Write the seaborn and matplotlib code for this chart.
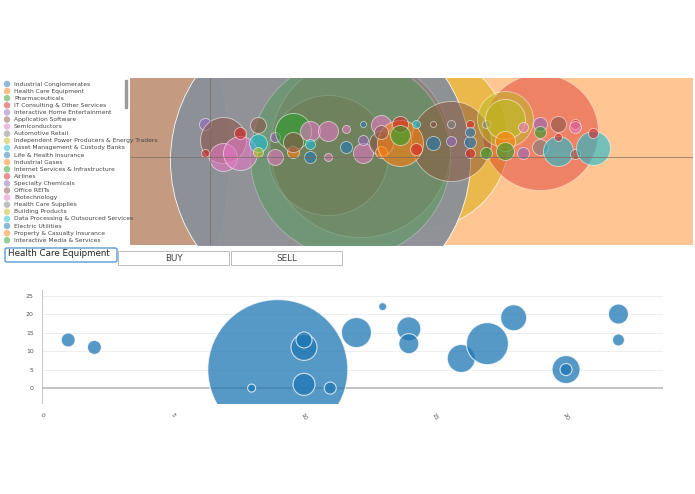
import matplotlib
matplotlib.use("Agg")
import matplotlib.pyplot as plt
import seaborn as sns
import pandas as pd
from matplotlib.patches import FancyBboxPatch

sns.set_style("white")
plt.rcParams["font.family"] = ["DejaVu Sans"]

# -----------------------------
# Data
# -----------------------------
sectors = [
    "Industrial Conglomerates", "Health Care Equipment", "Pharmaceuticals",
    "IT Consulting & Other Services", "Interactive Home Entertainment",
    "Application Software", "Semiconductors", "Automotive Retail",
    "Independent Power Producers & Energy Traders", "Asset Management & Custody Banks",
    "Life & Health Insurance", "Industrial Gases", "Internet Services & Infrastructure",
    "Airlines", "Specialty Chemicals", "Office REITs", "Biotechnology",
    "Health Care Supplies", "Building Products", "Data Processing & Outsourced Services",
    "Electric Utilities", "Property & Casualty Insurance", "Interactive Media & Services",
]
palette = sns.color_palette("tab10") + ["#e6b53a", "#8a9099", "#c49a80", "#8c5a40"]

# top overview (drawn in this order): position relative to origin, radius, colour index
top_x = [400, -300, 210, 330, 110, 150, 118, 140, 241, 295,
         -5, 13, 13, 30, 30, 48, 48, 48, 65, 65, 83, 83, 83, 100, 100, 118, 118,
         136, 136, 153, 153, 153, 171, 171, 171, 190, 190, 190, 206, 206, 223, 223,
         241, 241, 260, 260, 260, 276, 276, 295, 295, 295, 313, 313, 330, 330, 330,
         348, 348, 348, 365, 365, 365, 383, 383, -5, 100, 171, 260]
top_y = [0, 0, 17, 25, -3, 10, 2, 0, 16, 38,
         33, 17, 0, 4, 24, 32, 14, 5, 20, 0, 26, 5, 15, 26, 0, 26, 0,
         28, 10, 4, 17, 33, 32, 14, 5, 14, 33, 22, 33, 8, 14, 33,
         33, 16, 33, 15, 4, 33, 4, 38, 16, 6, 30, 4, 33, 10, 25,
         6, 33, 20, 33, 3, 30, 9, 24, 4, 13, 25, 25]
top_r = [420, 320, 88, 58, 150, 90, 60, 100, 40, 28,
         6, 23, 14, 17, 6, 8, 9, 5, 5, 8, 18, 6, 10, 10, 6, 10, 4,
         4, 6, 10, 5, 3, 10, 12, 6, 23, 8, 10, 4, 6, 7, 3,
         4, 5, 4, 6, 5, 4, 6, 20, 10, 9, 5, 6, 7, 8, 6,
         15, 8, 4, 5, 5, 6, 17, 5, 4, 5, 7, 5]
top_c = [1, 12, 10, 3, 11, 5, 5, 2, 13, 8,
         4, 5, 6, 6, 3, 5, 9, 8, 4, 6, 2, 1, 5, 6, 0, 6, 6,
         6, 0, 6, 4, 0, 6, 5, 1, 1, 3, 2, 9, 3, 0, 5,
         7, 4, 3, 0, 3, 7, 2, 8, 1, 2, 6, 4, 4, 7, 2,
         9, 5, 3, 3, 5, 6, 9, 3, 3, 9, 5, 0]

# bottom detail: Health Care Equipment
hc_x = [1, 2, 9, 8, 10, 10, 10, 11, 12, 13, 14, 14, 16, 17, 18, 20, 20, 22, 22]
hc_y = [13, 11, 5, 0, 11, 13, 1, 0, 15, 22, 16, 12, 8, 12, 19, 5, 5, 20, 13]
hc_r = [7, 7, 70, 4, 13, 8, 11, 6, 15, 4, 12, 10, 14, 21, 13, 14, 6, 10, 6]

fig = plt.figure(figsize=(6.95, 4.94), dpi=100)
W, H = 695, 494
px = 0.72  # points per pixel

# opacity of the large background bubbles, by colour
big_alpha = {1: 0.45, 12: 1.0, 11: 0.95, 5: 0.25, 2: 0.3, 10: 0.8, 3: 0.42,
             8: 0.5, 13: 0.55}


def box(x0, y0, x1, y1):
    return [x0 / W, 1 - y1 / H, (x1 - x0) / W, (y1 - y0) / H]


# -----------------------------
# Top overview chart
# -----------------------------
ax = fig.add_axes(box(130, 78, 693, 245))
top = pd.DataFrame({"x": top_x, "y": top_y, "r": top_r, "c": top_c})
for _, row in top.iterrows():
    c = int(row.c)
    a = big_alpha.get(c, 0.4) if row.r >= 28 else 0.6
    ax.scatter(row.x, row.y, s=(2 * row.r * px) ** 2, color=palette[c],
               alpha=a, edgecolors=(1, 1, 1, 0.25), linewidths=0.6, zorder=2)
ax.axhline(0, color="#7a6a60", lw=0.7, alpha=0.7, zorder=3)
ax.axvline(0, color="#7a6a60", lw=0.7, alpha=0.7, zorder=3)
ax.set_xlim(-80, 483)
ax.set_ylim(-88, 79)
ax.set_xticks([])
ax.set_yticks([])
for s in ax.spines.values():
    s.set_visible(False)

# legend column
lg = fig.add_axes(box(0, 78, 130, 245))
lg.set_xlim(0, 130)
lg.set_ylim(245, 78)
lg.axis("off")
for i, name in enumerate(sectors):
    yy = 84 + i * 7.1
    lg.scatter(7, yy, s=22, color=palette[i % 10], alpha=0.5, edgecolors="none")
    lg.text(14, yy, name, fontsize=4.3, va="center", color="#444444")
lg.add_patch(plt.Rectangle((125, 80), 2, 28, color="#9a9a9a"))

# input and buttons
fig.patches.append(FancyBboxPatch((5 / W, 1 - 262 / H), 112 / W, 14 / H,
                                  boxstyle="round,pad=0,rounding_size=0.003",
                                  transform=fig.transFigure, fc="white",
                                  ec="#5b9bd5", lw=1.0))
fig.text(8 / W, 1 - 254 / H, "Health Care Equipment", fontsize=6.3, va="center", color="#222222")
for x0, label in [(118, "BUY"), (231, "SELL")]:
    fig.patches.append(plt.Rectangle((x0 / W, 1 - 265 / H), 111 / W, 14 / H,
                                     transform=fig.transFigure, fc="white",
                                     ec="#bbbbbb", lw=0.7))
    fig.text((x0 + 55.5) / W, 1 - 258 / H, label, fontsize=6.3, ha="center",
             va="center", color="#444444")

# -----------------------------
# Bottom detail chart
# -----------------------------
bx = fig.add_axes(box(42, 290, 663, 404))
hc = pd.DataFrame({"x": hc_x, "y": hc_y, "r": hc_r})
sns.scatterplot(data=hc, x="x", y="y", ax=bx, s=(2 * hc["r"] * px) ** 2,
                color="#1f77b4", alpha=0.75, edgecolor=(1, 1, 1, 0.6),
                linewidth=0.8, legend=False, zorder=3)
bx.set_xlim(0, 23.7)
bx.set_ylim(-4.3, 26.5)
bx.set_yticks([0, 5, 10, 15, 20, 25])
bx.set_xticks([0, 5, 10, 15, 20])
bx.yaxis.grid(True, color="#eeeeee", lw=0.7)
bx.axhline(0, color="#bbbbbb", lw=1.2, zorder=2)
bx.axvline(0, color="#bbbbbb", lw=1.2, zorder=2)
bx.tick_params(labelsize=4.5, colors="#555555", length=0, pad=6)
for lab in bx.get_xticklabels():
    lab.set_rotation(-60)
bx.set_xlabel("")
bx.set_ylabel("")
for s in bx.spines.values():
    s.set_visible(False)

fig.savefig("out.png", dpi=100)
